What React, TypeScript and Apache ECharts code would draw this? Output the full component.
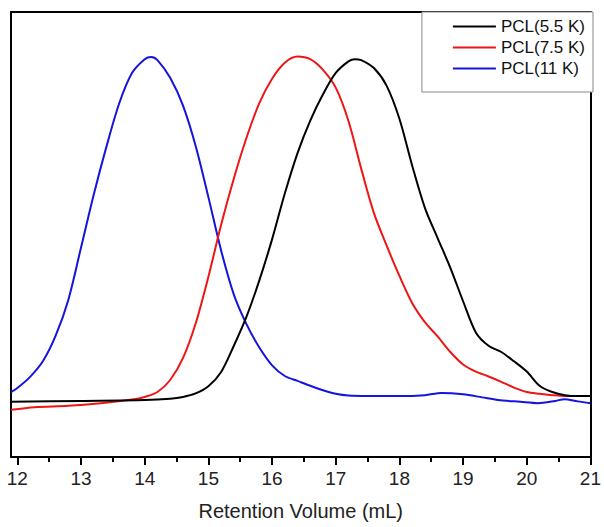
import React, { useEffect, useRef } from "react";
import * as echarts from "echarts";

const seriesNames = ["PCL(5.5 K)", "PCL(7.5 K)", "PCL(11 K)"];
const seriesColors = ["#000000", "#ee1515", "#1414dc"];

const blackData: number[][] = [
  [11.9, 12.4], [13.0, 12.6], [14.0, 12.8], [14.4, 13.1], [14.6, 13.5], [14.8, 14.3],
  [15.0, 15.9], [15.2, 19.1], [15.4, 25.0], [15.6, 31.6], [15.8, 39.7], [16.0, 48.9],
  [16.2, 59.2], [16.4, 68.3], [16.6, 75.6], [16.8, 81.5], [17.0, 86.3], [17.2, 88.9],
  [17.3, 89.4], [17.4, 89.2], [17.6, 87.4], [17.8, 83.4], [18.0, 76.0], [18.2, 65.5],
  [18.4, 56.0], [18.6, 49.2], [18.8, 42.5], [19.0, 35.0], [19.2, 28.0], [19.4, 25.0],
  [19.6, 23.6], [19.8, 21.5], [20.0, 19.2], [20.2, 16.0], [20.4, 14.6], [20.6, 13.9],
  [20.8, 13.7], [21.0, 13.7],
];

const redData: number[][] = [
  [11.9, 10.6], [12.27, 11.2], [12.8, 11.5], [13.31, 12.1], [13.83, 13.0], [14.0, 13.5],
  [14.2, 14.6], [14.4, 17.3], [14.6, 22.2], [14.8, 30.0], [15.0, 40.5], [15.2, 52.2],
  [15.4, 62.6], [15.6, 71.8], [15.8, 79.5], [16.0, 85.0], [16.2, 88.6], [16.4, 90.0],
  [16.6, 89.4], [16.8, 87.0], [17.0, 83.0], [17.2, 75.5], [17.4, 64.8], [17.6, 54.8],
  [17.8, 47.5], [18.0, 40.7], [18.2, 34.6], [18.4, 30.3], [18.6, 27.1], [18.8, 23.6],
  [19.0, 20.8], [19.2, 19.2], [19.4, 18.1], [19.6, 16.9], [19.8, 15.6], [20.0, 14.6],
  [20.2, 14.2], [20.4, 13.9], [20.6, 13.7], [21.0, 13.7],
];

const blueData: number[][] = [
  [11.9, 14.6], [12.0, 15.5], [12.2, 18.0], [12.4, 21.5], [12.6, 27.2], [12.8, 35.3],
  [13.0, 47.1], [13.2, 59.0], [13.4, 69.8], [13.6, 79.5], [13.8, 86.3], [14.0, 89.4],
  [14.1, 89.9], [14.2, 89.2], [14.4, 85.2], [14.6, 79.0], [14.8, 69.9], [15.0, 58.4],
  [15.2, 46.4], [15.4, 36.5], [15.6, 29.8], [15.8, 24.6], [16.0, 20.6], [16.2, 18.2],
  [16.4, 17.1], [16.6, 16.0], [16.8, 15.0], [17.0, 14.2], [17.2, 13.8], [17.5, 13.7],
  [18.0, 13.7], [18.4, 13.9], [18.66, 14.4], [19.0, 14.1], [19.3, 13.4], [19.55, 12.8],
  [19.9, 12.4], [20.17, 12.1], [20.45, 12.6], [20.59, 13.0], [20.8, 12.5], [21.0, 12.1],
];

const majorTicks = [12, 13, 14, 15, 16, 17, 18, 19, 20, 21];
const minorTicks = [12.5, 13.5, 14.5, 15.5, 16.5, 17.5, 18.5, 19.5, 20.5];
const xTitle = "Retention Volume (mL)";

const xMin = 11.9;
const xMax = 21;

export default function App() {
  const ref = useRef<HTMLDivElement>(null);
  useEffect(() => {
    if (!ref.current) return;
    const chart = echarts.init(ref.current, null, { renderer: "svg" });
    const font = "Arial, 'Liberation Sans', sans-serif";
    const datasets = [blackData, redData, blueData];
    chart.setOption({
      animation: false,
      backgroundColor: "#ffffff",
      grid: { left: 11, right: 11, top: 12, bottom: 70 },
      legend: {
        data: seriesNames,
        orient: "vertical",
        right: 11,
        top: 12,
        itemWidth: 43,
        itemHeight: 14,
        itemGap: 4,
        padding: [6, 8, 15, 30],
        backgroundColor: "#ffffff",
        borderColor: "#8a8a8a",
        borderWidth: 1,
        itemStyle: { opacity: 0 },
        textStyle: { fontFamily: font, fontSize: 17, lineHeight: 14, color: "#111" },
      },
      xAxis: [
        {
          type: "value",
          min: xMin,
          max: xMax,
          position: "bottom",
          axisLine: { show: true, onZero: false, lineStyle: { color: "#000", width: 2 } },
          axisTick: { show: true, inside: false, length: 8, customValues: majorTicks, lineStyle: { color: "#000", width: 2 } },
          axisLabel: {
            show: true,
            customValues: majorTicks,
            margin: 12,
            fontFamily: font,
            fontSize: 19,
            color: "#222",
            showMinLabel: true,
            showMaxLabel: true,
          },
          splitLine: { show: false },
          name: xTitle,
          nameLocation: "middle",
          nameGap: 44,
          nameTextStyle: { fontFamily: font, fontSize: 20, color: "#222" },
        },
        {
          type: "value",
          min: xMin,
          max: xMax,
          position: "bottom",
          axisLine: { show: false },
          axisTick: { show: true, inside: false, length: 5, customValues: minorTicks, lineStyle: { color: "#000", width: 2 } },
          axisLabel: { show: false },
          splitLine: { show: false },
        },
        {
          type: "value",
          min: xMin,
          max: xMax,
          position: "top",
          axisLine: { show: true, onZero: false, lineStyle: { color: "#000", width: 2 } },
          axisTick: { show: false },
          axisLabel: { show: false },
          splitLine: { show: false },
        },
      ],
      yAxis: [
        {
          type: "value",
          min: 0,
          max: 100,
          position: "left",
          axisLine: { show: true, onZero: false, lineStyle: { color: "#000", width: 2 } },
          axisTick: { show: false },
          axisLabel: { show: false },
          splitLine: { show: false },
        },
        {
          type: "value",
          min: 0,
          max: 100,
          position: "right",
          axisLine: { show: true, onZero: false, lineStyle: { color: "#000", width: 2 } },
          axisTick: { show: false },
          axisLabel: { show: false },
          splitLine: { show: false },
        },
      ],
      series: seriesNames.map((name, i) => ({
        name,
        type: "line",
        xAxisIndex: 0,
        yAxisIndex: 0,
        data: datasets[i],
        showSymbol: false,
        symbol: "none",
        smooth: 0.3,
        lineStyle: { color: seriesColors[i], width: 2 },
        itemStyle: { color: seriesColors[i] },
        z: 3 - i,
      })),
    });
    return () => chart.dispose();
  }, []);
  return (
    <div
      ref={ref}
      style={{ position: "fixed", left: 0, top: 0, width: 604, height: 527 }}
    />
  );
}
